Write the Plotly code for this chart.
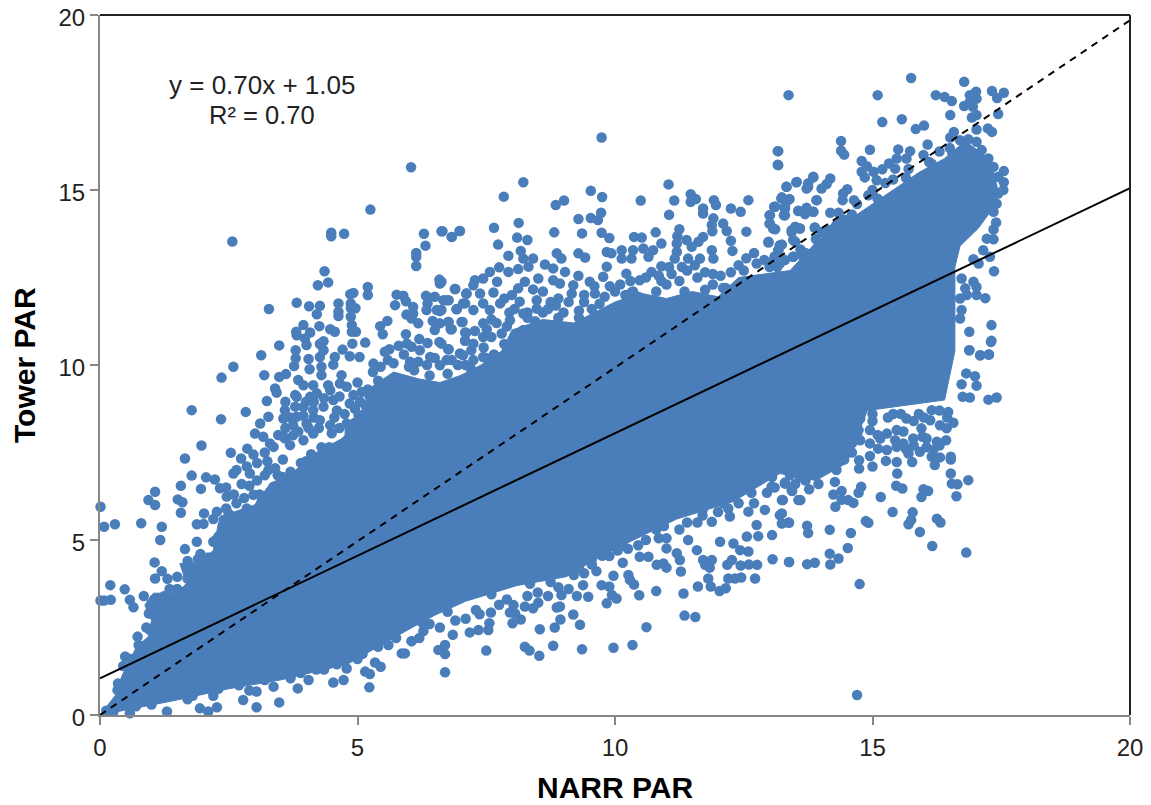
import plotly.graph_objects as go

BLUE = "#4a7ebb"
x_ticks = [0, 5, 10, 15, 20]
y_ticks = [0, 5, 10, 15, 20]
fit_x = [0, 20]
fit_y = [1.05, 15.05]
one_to_one_x = [0, 20]
one_to_one_y = [0, 19.85]

dense_outline = [(0,0),(0.33,.62),(.42,1.1),(.71,1.95),(.94,2.24),(1,2.7),(.87,3.14),(1.04,3.48),(1.49,3.48),(1.68,3.76),(1.55,4.33),(1.9,4.33),(2.2,4.7),(2.3,5.5),(2.6,5.8),(3.0,6.0),(3.3,6.6),(3.8,7.0),(4.2,7.5),(4.7,7.9),(5.0,8.4),(5.3,9.4),(5.7,9.8),(6.2,9.6),(6.6,9.5),(7.0,9.7),(7.4,10.0),(7.8,10.4),(8.0,11.0),(8.6,11.3),(9.2,11.2),(9.6,11.5),(10,11.8),(10.5,12.05),(11,11.9),(11.5,12.1),(12,11.95),(12.4,12.5),(12.9,12.6),(13.4,12.7),(13.9,13.5),(14.4,14.0),(14.8,14.4),(15.4,15.0),(15.9,15.5),(16.4,15.9),(16.8,16.4),(17.3,15.85),(17.45,14.9),(17.25,14.3),(17.05,13.9),(16.7,13.4),(16.6,12.8),(16.6,12),(16.6,11.5),(16.6,10.4),(16.4,9.0),(14.9,8.7),(14.5,7.2),(13.9,6.7),(13.2,6.9),(12.3,6.1),(11.2,5.6),(10.5,5.1),(9.8,4.6),(9.05,3.95),(8.1,3.7),(7.1,3.25),(6.5,2.85),(6,2.45),(4.8,1.45),(3.5,1.0),(2.5,.75),(1.4,.4),(0,0)]

points_upper_left = [(6.04,15.65),(5.25,14.44),(2.57,13.53),(4.49,13.78),(4.49,13.68),(4.74,13.75),(6.29,13.75),(6.63,13.82),(6.83,13.66),(6.98,13.83),(6.32,13.41),(6.14,13.2),(6.14,13.09),(6.14,12.83),(4.36,12.68),(4.43,12.36),(4.23,12.28),(5.2,12.23),(5.2,12.0),(6.59,12.44),(6.6,12.33),(6.9,12.17),(3.28,11.6),(3.82,11.78),(4.06,11.68),(4.27,11.69),(4.21,11.45),(4.63,11.76),(4.63,11.52),(4.63,11.4),(4.92,12.06),(4.86,12.02),(4.87,11.76),(4.96,11.62),(4.87,11.63),(4.87,11.38),(4.89,11.14),(4.89,10.95),(4.97,10.95),(5.76,12.01),(5.89,11.98),(5.94,11.82),(5.73,11.71),(6.08,11.66),(5.95,11.44),(6.08,11.47),(6.05,11.33),(6.33,11.98),(6.5,11.95),(6.34,11.57),(6.36,11.76),(6.54,11.57),(6.6,11.54),(6.67,11.85),(6.77,11.85),(6.93,11.6),(7.11,12.04),(7.09,11.76),(5.58,11.26),(5.44,11.11),(5.49,10.88),(6.18,11.19),(6.46,11.26),(6.6,11.19),(6.77,11.23),(6.83,11.02),(6.5,11),(7.04,11.23),(7.11,10.92),(5.94,10.88),(6.2,10.74),(6.36,10.63),(5.96,10.61),(6.05,10.52),(6.21,10.42),(6.59,10.66),(6.77,10.45),(7.09,10.69),(3.95,11.14),(3.81,10.95),(3.82,10.85),(3.98,10.76),(4.08,10.93),(4.26,11.11),(4.47,11.02),(4.56,10.95),(4.01,10.57),(4.34,10.68),(4.27,10.6),(4.34,10.42),(4.27,10.23),(3.8,10.42),(3.8,10.19),(3.77,9.97),(4.05,10.17),(4.07,9.88),(3.48,10.56),(3.13,10.28),(2.59,9.95),(2.36,9.64),(3.19,9.71),(3.48,9.66),(3.61,9.74),(4.71,10.44),(4.9,10.61),(5.15,10.64),(4.85,10.25),(5.04,10.23),(4.56,10.23),(4.53,10.01),(4.3,9.95),(5.62,10.45),(5.53,10.38),(5.59,10.14),(5.31,10.04),(6.41,10.23),(6.02,10.09),(6.18,10.09),(6.6,9.99),(6.83,10.14),(7.05,10.28),(4.3,9.71),(3.85,9.57),(3.95,9.42),(4.69,9.71),(4.14,9.42),(4.43,9.42),(4.66,9.47),(4.79,9.38),(5.08,9.23),(3.4,9.33),(3.43,9.21),(3.79,9.14),(3.24,8.97),(1.78,8.71),(2.83,8.66),(2.35,8.45),(1.97,7.7),(1.65,7.33),(2.54,7.49),(2.86,7.61),(2.98,7.44),(2.74,7.33),(3.27,8.52),(3.11,8.33),(3.59,8.71),(3.56,8.47),(3.01,8.04),(3.17,7.95),(3.3,7.76),(3.46,8.0),(3.82,9.09),(3.79,8.81),(4.08,9.09),(4.21,9.19),(4.47,9.28),(4.34,8.81),(4.14,8.71),(4.53,9),(4.92,9.14),(5.24,9.09),(3.82,8.52),(3.75,8.28),(4.01,8.33),(4.27,8.42),(4.47,8.28),(4.79,8.33),(5.02,8.57),(5.15,8.62),(5.37,8.81),(3.56,7.95),(3.75,7.99),(3.95,7.85),(4.14,8.04),(3.37,7.66),(3.69,7.71),(3.6,8.95),(4.0,8.95),(4.6,8.7),(3.2,7.5),(3.6,7.9)]

points_fill_upper_left = [(2.45,6.5),(2.6,6.3),(2.75,6.6),(2.9,6.55),(3.05,6.7),(3.2,6.85),(2.65,7.0),(2.85,7.1),(3.05,7.2),(3.25,7.25),(3.4,7.05),(3.55,7.3),(3.6,8.2),(3.85,8.1),(4.05,8.2),(4.25,8.2),(4.5,8.05),(4.65,8.2),(4.85,8.15),(5.1,8.25),(5.25,8.4),(3.7,8.5),(3.95,8.55),(4.15,8.5),(4.55,8.5),(4.75,8.6),(4.95,8.75),(5.25,8.75),(3.95,8.8),(4.15,8.95),(4.35,9.05),(4.65,9.1),(4.85,8.9),(5.05,8.95),(5.2,9.3),(5.0,9.5),(5.45,9.95),(5.7,10.05),(5.9,10.3),(6.0,9.95),(6.35,10.0),(6.5,10.2),(6.95,10),(7.1,10.0),(5.8,10.55),(7.45,10.5),(7.6,10.8),(7.65,10.3),(7.8,10.9),(7.9,11.1),(7.7,11.2),(7.95,11.5),(7.85,11.9),(8.05,11.6),(8.0,12.0),(7.6,11.3),(8.3,11.5),(8.45,11.25),(8.6,11.5),(8.75,11.8),(8.6,12.1),(8.85,11.7),(9.0,11.5),(9.1,11.8),(9.3,11.55),(9.4,12.0),(9.55,11.6),(9.7,11.75),(9.6,12.25),(9.9,12.25),(10.1,12.3),(10.3,12.4),(10.2,12.0),(10.45,11.95),(10.6,12.5),(10.85,12.55),(11.0,12.3),(11.25,12.4),(11.05,12.8),(11.3,12.8),(11.55,12.85),(11.75,12.65),(11.9,12.6),(12.05,12.55),(12.25,12.65),(12.4,12.85),(12.55,13.05),(12.7,13.2),(12.9,13),(13.1,13.1),(13.3,13.0),(13.6,13.3),(13.9,13.6),(14.1,13.7),(14.25,13.9),(14.45,14.15),(0.35,0.9),(0.45,1.4),(0.6,1.6),(0.75,2),(0.85,1.9),(1,2.1),(0.9,2.5),(1.15,2.7),(1.05,3.3),(1.25,3.4),(1.5,3.6),(1.7,3.9),(1.75,4.25),(1.9,4.45),(2.1,4.5),(2.3,5.1),(2.2,5.6),(2.45,5.9),(3.45,6.85),(3.9,7.2),(4.3,7.65),(4.55,7.25),(4.75,7.75),(5.1,7.65),(4.95,8.35),(3.1,6.3),(2.8,6.2),(3.7,6.95),(4.1,7.45)]

points_edge_upper = [(5.3,9.8),(6.1,9.85),(6.4,9.7),(6.75,9.75),(7.2,9.9),(7.5,10.2),(7.85,10.6),(8.3,11.35),(8.9,11.35),(9.3,11.35),(10.35,12.1),(10.8,12.1),(11.35,12.1),(11.75,12.15),(12.15,12.2),(13.15,12.8),(13.65,13.1),(14.15,13.85),(14.6,14.25),(15.1,14.75),(15.65,15.35),(16.15,15.75),(16.55,16.05),(2.25,5.0),(2.4,5.3),(2.5,5.75),(2.85,5.9),(3.15,6.15),(3.55,6.8),(4.0,7.25),(4.45,7.65),(4.85,8.05),(5.15,8.85),(5.4,9.55)]

points_edge_lower = [(1.8,.55),(2.3,.75),(2.7,.85),(3.2,1.0),(3.7,1.05),(4.2,1.3),(4.6,1.45),(5.1,1.75),(5.4,1.95),(5.75,2.2),(6.25,2.65),(6.75,2.95),(7.6,3.45),(8.35,3.75),(8.75,3.8),(9.3,4.2),(9.55,4.45),(10.15,4.85),(10.8,5.3),(11.7,5.85),(12.1,6.05),(12.65,6.35),(13.05,6.8),(13.4,6.85),(14.15,7.1),(14.6,7.5),(14.7,8.0)]

points_left = [(1.78,6.84),(1.07,6.38),(.94,6.14),(1.07,6),(1.57,6.55),(1.96,6.46),(2.06,6.79),(2.23,6.73),(1.51,6.16),(1.6,6.08),(1.57,5.78),(2.02,5.76),(.01,5.95),(.08,5.38),(.29,5.45),(.8,5.48),(1.2,5.38),(1.17,5),(1.88,5.45),(2.01,5.46),(1.65,4.74),(1.88,4.95),(1.06,4.36),(1.2,4.11),(1.07,3.9),(1.31,3.89),(.2,3.71),(.48,3.59),(.01,3.27),(.08,3.27),(.21,3.29),(.58,3.29),(.65,3.08),(.73,2.24),(.49,1.67),(.97,2.43),(.34,.71),(2.59,6.9),(2.91,6.9),(3.27,7),(2.33,6.48),(2.46,6.24),(2.65,6.05),(2.98,6.29),(3.14,6.1),(3.37,6.52),(3.56,6.57),(3.75,6.86),(2.27,5.81),(2.4,5.57),(2.2,4.95),(1.95,4.6),(1.7,4.4),(1.5,3.95),(1.35,3.6),(1.0,3.2),(.95,2.9),(.85,3.4),(5.23,.79),(3.48,.36),(3.04,.22),(2.1,.1),(5.15,1.24),(5.24,1.17),(5.45,1.38),(5.34,1.5),(5.86,1.76),(4.73,1),(4.53,.93),(3.84,.76),(4.05,1),(3.37,.81),(3.04,.67),(2.78,.43),(2.27,.22),(1.94,.19),(1.3,.1),(.58,.05),(.26,.1),(4.79,1.33),(6.05,2.11),(0.12,0.12),(0.35,0.3),(0.7,0.25),(1.0,0.3),(1.7,0.45),(2.2,0.55),(2.9,0.7),(3.9,1.2),(4.35,1.3),(5.0,1.6),(5.6,2.0)]

points_upper_mid = [(9.74,16.5),(13.16,16.11),(13.16,15.72),(8.22,15.22),(7.84,14.81),(9.53,14.98),(9.75,14.8),(8.85,14.57),(9.01,14.7),(11.04,15.16),(10.5,14.7),(11.15,14.7),(11.05,14.29),(11.47,14.88),(11.57,14.74),(11.47,14.66),(11.92,14.71),(11.96,14.57),(11.71,14.47),(11.71,14.33),(12.25,14.47),(12.44,14.38),(12.59,14.71),(9.73,14.35),(9.67,14.14),(9.53,14.2),(9.29,14.17),(8.13,14.06),(7.65,13.92),(6.99,13.83),(6.83,13.66),(6.65,13.82),(8.82,13.79),(9.36,13.76),(9.74,13.78),(9.89,13.63),(8.1,13.64),(8.3,13.57),(7.73,13.44),(7.93,13.12),(8.17,13.26),(11.91,14.19),(11.88,14),(11.89,13.82),(12.1,14.04),(12.17,13.83),(12.25,13.55),(12.28,13.26),(12.55,13.81),(11.25,13.88),(11.21,13.68),(11.39,13.57),(11.71,13.66),(11.62,13.52),(10.79,13.79),(10.9,13.47),(10.37,13.66),(10.52,13.64),(11.2,13.47),(11.2,13.23),(11.49,13.38),(11.88,13.28),(11.91,13.04),(11.42,13.04),(11.65,13.04),(11.16,13.04),(12.98,13.52),(13.2,13.42),(13.17,13.28),(13.07,13.9),(13.01,14.04),(13.01,14.28),(13.09,14.52),(13.23,14.76),(13.36,14.71),(13.3,14.47),(13.3,14.28),(13.33,15.09),(13.53,15.23),(13.75,15.09),(13.85,15.36),(13.91,14.71),(13.56,14.4),(13.72,14.42),(13.85,14.38),(13.43,13.85),(13.59,13.9),(13.88,13.93),(13.46,13.57),(13.46,13.09),(8.87,13.19),(8.96,13.04),(9.29,13.19),(9.42,13.07),(9.84,13.23),(9.93,13.19),(10.13,13.28),(10.35,13.28),(10.55,13.33),(10.74,13.28),(10.65,13.09),(10.13,13.04),(10.32,13.04),(9.84,12.81),(10.22,12.61),(10.9,12.82),(10.71,12.66),(10.48,12.42),(9.77,12.52),(9.29,12.55),(9.51,12.38),(10.32,12.07),(8.22,13.04),(8.41,13.04),(8.32,12.81),(8.64,12.87),(8.8,12.76),(9.03,12.66),(7.75,12.79),(7.57,12.66),(7.93,12.66),(8.12,12.74),(7.44,12.47),(7.28,12.42),(7.25,12.28),(7.71,12.38),(8.51,12.47),(8.25,12.38),(8.8,12.42),(8.93,12.33),(9.19,12.28),(6.89,12.17),(6.63,12.38),(8.12,12.19),(8.41,12.16),(9.16,12.04),(9.61,12.04),(7.12,12.04),(7.38,12.04),(7.64,12.07),(6.73,11.85),(7.05,11.76),(7.44,11.76),(7.77,11.76),(6.63,11.57),(6.92,11.59),(7.25,11.57),(7.57,11.57),(8.15,11.81),(8.48,11.85),(8.48,11.61),(8.22,11.47),(6.76,11.23),(7.02,11.23),(7.44,11.19),(6.81,11.02),(7.51,11.02),(7.09,10.93),(7.28,10.97),(7.44,10.8),(7.09,10.69),(6.63,10.61),(7.25,10.61),(6.76,10.45),(7.21,10.42),(6.99,10.33),(7.44,10.23),(6.73,10.14),(7.25,10.14),(8.22,11),(7.96,11.28),(8.9,11.9),(9.4,11.8),(9.8,11.95),(10.0,12.1),(10.9,12.4),(11.1,12.6),(11.4,12.7),(11.6,12.5),(11.9,12.3),(12.1,12.2),(12.5,12.7),(12.75,12.9),(13.0,12.8),(13.2,12.9),(13.7,13.2),(8.7,11.6)]

points_upper_right = [(15.75,18.2),(16.78,18.09),(13.37,17.71),(15.1,17.71),(16.23,17.71),(16.4,17.66),(16.54,17.54),(17.01,17.81),(16.89,17.71),(17.02,17.61),(16.89,17.52),(16.78,17.4),(16.95,17.38),(17.32,17.83),(17.55,17.78),(17.42,17.63),(17.44,17.17),(16.51,17.14),(17.02,17.14),(16.93,17.07),(15.19,16.94),(15.57,17.02),(15.84,16.74),(16,16.84),(17.02,16.73),(17.24,16.76),(17.32,16.66),(16.58,16.66),(16.51,16.5),(14.39,16.4),(14.39,16.12),(14.45,16.01),(14.95,16.15),(13.17,16.11),(13.17,15.71),(16.07,16.3),(15.5,16.16),(15.73,16.11),(14.79,15.83),(14.89,15.68),(15.47,15.9),(15.66,15.9),(15.99,16),(15.19,15.59),(15.32,15.76),(15.44,15.61),(15.02,15.52),(14.79,15.52),(14.85,15.36),(15.08,15.28),(17.55,15.54),(17.55,15.22),(17.54,15),(13.85,15.38),(13.75,15.19),(13.52,15.22),(13.33,15.09),(13.72,15.04),(14.18,15.33),(14.11,15.17),(14.01,15.04),(14.51,15.02),(14.43,14.9),(13.92,14.71),(14.42,14.71),(14.64,14.71),(14.92,14.85),(13.24,14.79),(13.39,14.74),(13.11,14.52),(13.3,14.52),(13.28,14.28),(13,14.28),(13.56,14.41),(13.72,14.49),(13.69,14.31),(13.85,14.38),(14.18,14.35),(14.34,14.35),(14.4,14.16),(13,14.04),(13.11,13.88),(13.5,13.95),(13.59,13.9),(13.43,13.79),(13.88,13.92),(14.01,13.8),(12.98,13.5),(13.24,13.44),(13.17,13.28),(13.5,13.52),(13.46,13.09),(13.06,12.95),(17.4,14.07),(17.35,13.87),(17.35,13.59),(17.22,13.61),(17.15,13.28),(16.96,13.02),(17.06,12.9),(17.28,13.09),(17.36,12.68),(16.73,12.47),(16.96,12.38),(16.8,12.19),(17.02,12.23),(16.7,11.9),(17.02,12),(17.19,11.91),(16.83,12),(16.73,11.57),(16.7,11.33),(17.31,11.14),(16.88,10.95),(17.31,10.69),(16.88,10.42),(17.09,10.28),(17.26,10.3),(17.25,15.9),(17.35,15.66),(17.44,15.38),(17.44,14.9),(17.41,14.61),(17.35,14.38),(17.02,16.38),(16.86,16.45),(16.7,16.42),(17.12,16.14),(14.3,14.0),(14.6,14.3),(15.0,14.9),(15.4,15.3),(15.7,15.6),(16.1,15.8),(16.3,16.1),(16.5,16.2),(15.0,15.0),(14.7,14.6),(15.25,15.2)]

points_lower = [(16.88,10.42),(17.09,10.28),(17.26,10.3),(17.3,10.66),(16.82,9.76),(16.99,9.68),(17.02,9.41),(16.73,9.45),(16.75,9.09),(16.89,9.07),(17.25,9.01),(17.41,9.07),(16.47,8.66),(16.57,8.35),(16.44,8.19),(16.31,8.28),(16.43,7.85),(16.25,7.81),(16.52,7.38),(16.52,7.3),(16.31,7.36),(16.21,7.14),(16.15,7.38),(16.18,7.57),(15.92,7.52),(16.12,8.42),(16.15,8.71),(15.95,8.19),(15.97,7.95),(15.79,7.9),(15.66,8.47),(15.47,8.14),(15.44,7.85),(15.6,7.76),(15.28,8.04),(15.47,7.66),(15.28,7.57),(15.11,7.61),(15.7,7.47),(15.77,7.23),(15.47,7.23),(15.26,7.26),(15.48,6.9),(14.95,7.76),(14.73,8.14),(14.76,7.85),(14.95,8.14),(14.76,8.47),(14.74,7.28),(14.74,7.04),(14.6,7.76),(16.52,6.9),(16.86,6.71),(16.54,6.61),(16.65,6.59),(16.63,6.25),(15.46,6.55),(15.58,6.47),(15.99,6.45),(16.08,6.4),(15.95,6.23),(15.16,6.23),(14.78,6.52),(14.73,6.35),(14.4,6.4),(14.24,6.3),(14.4,6.15),(14.53,6.14),(14.63,6.06),(14.28,5.95),(15.39,5.8),(15.78,5.79),(15.75,5.57),(15.7,5.45),(16.25,5.61),(16.32,5.5),(15.92,5.23),(14.87,5.54),(14.92,5.49),(14.58,5.2),(14.17,5.29),(13.73,5.41),(13.75,5.2),(13.38,5.49),(13.24,5.76),(13.24,5.47),(13.6,6.14),(13.26,6.14),(13.77,6.45),(13.44,6.4),(14.27,6.66),(13.3,6.61),(16.16,4.83),(16.82,4.64),(14.52,4.77),(14.17,4.61),(14.34,4.47),(14.18,4.3),(13.38,4.37),(13.73,4.31),(13.88,4.35),(14.75,3.74),(14.7,.57),(13.59,6.8),(15.0,8.6),(15.4,8.6),(15.9,8.6),(6.7,1.22),(7.5,1.84),(6.7,2),(6.57,1.86),(6.7,1.74),(8.25,1.95),(8.34,1.84),(8.53,1.69),(8.8,1.98),(9.36,1.88),(9.97,1.92),(10.34,2),(10.61,2.51),(11.35,2.84),(11.56,2.8),(8.54,2.45),(8.83,2.5),(9.32,2.58),(9.19,2.87),(8.94,2.73),(6.85,2.29),(6.05,2.11),(5.92,1.76),(6.28,2.4),(7.18,2.36),(7.35,2.43),(7.54,2.43),(7.56,2.62),(7.37,2.88),(7.59,2.93),(8.01,2.62),(8.17,2.73),(7.96,2.93),(8.06,2.9),(8.25,3.1),(8.41,3.05),(8.51,3.21),(8.87,3.07),(8.93,3.1),(8.03,3.14),(8.96,3.43),(9.26,3.4),(9.48,3.38),(9.84,3.19),(10.03,3.33),(9.94,3.43),(9.74,3.71),(9.89,3.67),(9.38,3.71),(9.97,3.98),(10.26,4),(10.29,3.86),(10.37,3.73),(10.47,3.42),(10.8,3.54),(11.33,3.47),(11.61,3.67),(11.81,3.9),(11.86,3.67),(12.03,3.54),(12.15,3.62),(12.2,3.9),(12.33,3.9),(12.45,3.93),(12.72,3.9),(11.28,4.1),(11,4.21),(10.81,4.29),(10.94,4.33),(11.75,4.29),(11.71,4.43),(11.88,4.43),(11.84,4.21),(12.18,4.29),(12.27,4.43),(12.44,4.27),(12.6,4.3),(12.76,4.29),(13.06,4.45),(13.38,4.37),(11.59,4.71),(11.26,4.43),(11.2,4.62),(11,4.76),(10.48,4.52),(10.65,4.52),(10.15,4.35),(9.9,4.81),(9.89,4.54),(9.64,4.11),(12.56,5.1),(12.78,5.11),(13.05,5.14),(12.59,4.67),(12.43,4.71),(12.04,4.95),(12.3,4.9),(11.42,5),(11,5.05),(13.37,5.5),(13.2,5.71),(12.91,5.86),(12.2,5.9),(12.59,5.81),(12.75,5.43),(12.23,5.67),(11.88,5.52),(13.24,6.14),(13.56,6.14),(13.43,6.43),(13.04,6.52),(13.3,6.64)]

points_fill_lower = [(6.2,2.2),(6.4,2.6),(6.6,2.5),(6.9,2.7),(7.1,2.75),(7.3,3.0),(7.75,3.15),(7.9,3.3),(8.3,3.4),(8.5,3.5),(8.7,3.4),(8.9,3.65),(9.1,3.6),(9.2,4),(9.4,4.05),(9.55,4.3),(9.75,4.55),(10.05,4.7),(10.25,4.75),(10.45,4.85),(10.6,5),(10.85,5.05),(10.95,5.4),(11.25,5.3),(11.4,5.5),(11.6,5.5),(11.7,5.7),(12,5.8),(12.4,6.05),(12.7,6.05),(12.95,6.35),(13.1,6.5),(13.5,6.6),(13.7,6.7),(13.95,6.6),(14.3,7.0),(14.45,7.3),(14.5,7.6),(14.55,7.9),(14.6,8.2),(14.65,8.5),(15,8.4),(15.3,8.5),(15.55,8.6),(15.8,8.4),(16,8.5),(16.3,8.7),(16.45,8.5),(15.1,8.0),(15.6,8.1),(15.8,7.7),(16.05,7.9),(16.3,7.7),(14.95,7.4),(15.15,7.9),(15.65,7.6),(16.05,7.65),(15,7.1)]

all_points = (points_upper_left + points_fill_upper_left + points_edge_upper + points_edge_lower + points_left
              + points_upper_mid + points_upper_right + points_lower + points_fill_lower)

fig = go.Figure()
fig.add_trace(go.Scatter(x=[p[0] for p in dense_outline], y=[p[1] for p in dense_outline],
                         mode="lines", fill="toself", fillcolor=BLUE, line=dict(color=BLUE, width=1),
                         showlegend=False, hoverinfo="skip"))
fig.add_trace(go.Scatter(x=[p[0] for p in all_points], y=[p[1] for p in all_points], mode="markers",
                         marker=dict(color=BLUE, size=10.5, line=dict(width=0)), cliponaxis=False, showlegend=False))
fig.add_trace(go.Scatter(x=fit_x, y=fit_y, mode="lines", line=dict(color="black", width=2), showlegend=False))
fig.add_trace(go.Scatter(x=one_to_one_x, y=one_to_one_y, mode="lines",
                         line=dict(color="black", width=2, dash="7px,6px"), showlegend=False))

axis_common = dict(range=[0, 20], showgrid=False, zeroline=False, showline=True, linecolor="#868686", linewidth=2,
                   ticks="outside", ticklen=8, tickcolor="#868686", tickwidth=2, automargin=False,
                   ticklabeloverflow="allow",
                   tickfont=dict(family="Liberation Sans", size=24, color="#222222"))
fig.update_xaxes(tickvals=x_ticks, ticklabelstandoff=2, **axis_common)
fig.update_yaxes(tickvals=y_ticks, ticklabelshift=3, **axis_common)
fig.update_layout(width=1143, height=797, autosize=False, margin=dict(l=92, r=21, t=7, b=90),
                  plot_bgcolor="white", paper_bgcolor="white",
                  shapes=[dict(type="line", xref="paper", yref="paper", x0=0, x1=1, y0=1, y1=1, line=dict(color="#222222", width=2)),
                          dict(type="line", xref="paper", yref="paper", x0=1, x1=1, y0=0, y1=1, line=dict(color="#222222", width=2))],
                  annotations=[dict(x=3.15, y=18, xref="x", yref="y", text="y = 0.70x + 1.05", showarrow=False,
                                    font=dict(family="Liberation Sans", size=26, color="#222222")),
                               dict(x=3.15, y=17.14, xref="x", yref="y", text="R² = 0.70", showarrow=False,
                                    font=dict(family="Liberation Sans", size=25.5, color="#222222")),
                               dict(x=10, y=0, xref="x", yref="paper", yshift=-72, yanchor="middle", text="<b>NARR PAR</b>", showarrow=False,
                                    font=dict(family="Liberation Sans", size=30, color="black")),
                               dict(x=0, y=10, xref="paper", yref="y", xshift=-76, xanchor="center", yanchor="middle", text="<b>Tower PAR</b>", textangle=-90, showarrow=False,
                                    font=dict(family="Liberation Sans", size=30, color="black"))])
fig.write_html("out.html")
